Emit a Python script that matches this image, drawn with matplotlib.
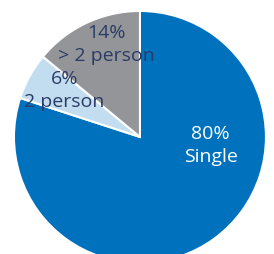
import matplotlib
matplotlib.use("Agg")
import matplotlib.pyplot as plt

categories = ["Single", "2 person", "> 2 person"]
shares = [80, 6, 14]
colors = ["#0071BC", "#C3DDF0", "#939598"]
text_colors = ["white", "#2B3B66", "#2B3B66"]

# where each label sits (data units, pie radius = 1)
label_pos = [(0.56, -0.06), (-0.60, 0.375), (-0.27, 0.745)]

fig = plt.figure(figsize=(2.74, 2.55), dpi=100)
ax = fig.add_axes([0, 0, 1, 1])
ax.pie(shares, colors=colors, startangle=90, counterclock=False,
       wedgeprops=dict(edgecolor="white", linewidth=1.5))

for cat, val, tc, (x, y) in zip(categories, shares, text_colors, label_pos):
    ax.text(x, y, f"{val}%\n{cat}", ha="center", va="center", color=tc,
            fontsize=14, family="Open Sans", linespacing=1.35)

ax.set_xlim(-1.111, 1.064)
ax.set_ylim(-0.929, 1.095)
ax.set_aspect("auto")
ax.axis("off")
fig.savefig("out.png", dpi=100)
